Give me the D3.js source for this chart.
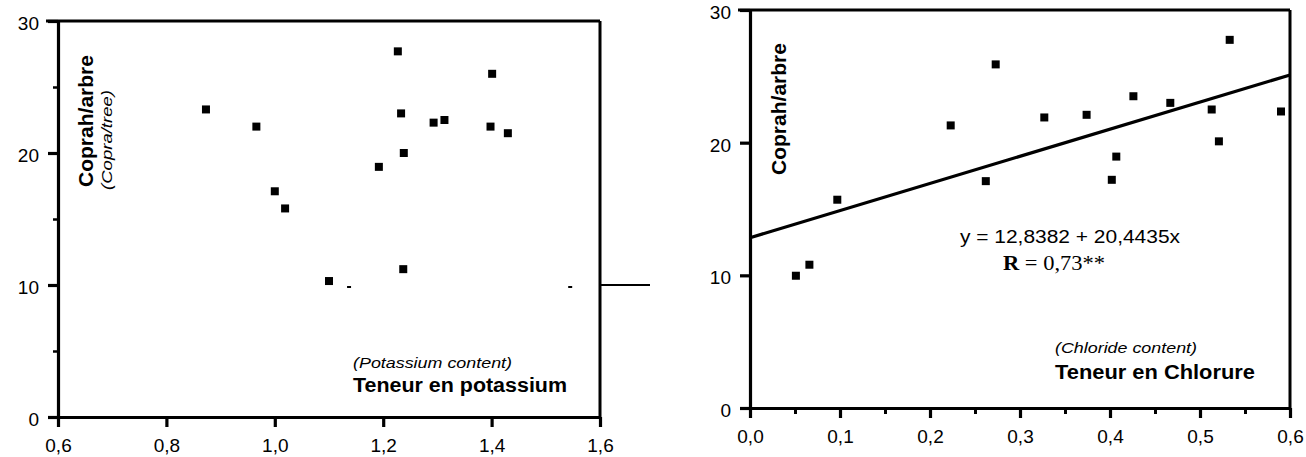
<!DOCTYPE html>
<html>
<head>
<meta charset="utf-8">
<script src="https://cdn.jsdelivr.net/npm/d3@7"></script>
<style>
  body { margin: 0; background: #fff; }
  svg { display: block; }
  text { fill: #000; }
</style>
</head>
<body>
<svg id="canvas" width="1306" height="457"></svg>
<script>
// left panel : potassium vs copra per tree
const potassium = [0.873, 0.966, 1.0, 1.019, 1.10, 1.192, 1.227, 1.233, 1.238, 1.237, 1.293, 1.313, 1.398, 1.401, 1.430];
const coprahK   = [23.3, 22.0, 17.1, 15.8, 10.3, 18.95, 27.7, 23.0, 20.0, 11.2, 22.3, 22.5, 22.0, 26.0, 21.5];

// right panel : chloride vs copra per tree
const chloride = [0.051, 0.066, 0.097, 0.223, 0.262, 0.273, 0.327, 0.374, 0.402, 0.407, 0.426, 0.467, 0.513, 0.521, 0.533, 0.590];
const coprahCl = [9.97, 10.8, 15.7, 21.3, 17.1, 25.9, 21.9, 22.1, 17.2, 18.95, 23.5, 23.0, 22.5, 20.1, 27.75, 22.35];

const regIntercept = 12.8382;
const regSlope = 20.4435;

const kTicks = [0.6, 0.8, 1.0, 1.2, 1.4, 1.6];
const clTicks = [0, 0.1, 0.2, 0.3, 0.4, 0.5, 0.6];
const clMinorTicks = [0.05, 0.15, 0.25, 0.35, 0.45, 0.55];
const yTicks = [0, 10, 20, 30];
const yMinorTicks = [5, 15, 25];

const comma = d3.formatLocale({decimal: ',', thousands: ' ', grouping: [3], currency: ['', '']});
const fmtX = comma.format('.1f');
const fmtY = comma.format('d');

let canvas = d3.select('#canvas');

const styleAxis = (g, w) => {
    g.select('.domain').attr('stroke', '#000').attr('stroke-width', w);
    g.selectAll('.tick line').attr('stroke', '#000').attr('stroke-width', w);
    g.selectAll('.tick text')
        .attr('font-family', 'Liberation Sans, Arial, sans-serif')
        .attr('font-size', 19)
        .attr('fill', '#000');
};

const drawPanel = (p) => {
    let x = d3.scaleLinear().domain(p.xDomain).range(p.xRange);
    let y = d3.scaleLinear().domain([0, 30]).range(p.yRange);
    let g = canvas.append('g');

    // frame : top and right borders
    g.append('line')
        .attr('x1', x(p.xDomain[0]) - 12).attr('x2', x(p.xDomain[1]))
        .attr('y1', y(30)).attr('y2', y(30))
        .attr('stroke', '#000').attr('stroke-width', 2.8);
    g.append('line')
        .attr('x1', x(p.xDomain[1])).attr('x2', x(p.xDomain[1]))
        .attr('y1', y(30)).attr('y2', y(0))
        .attr('stroke', '#000').attr('stroke-width', 3);

    // x axis
    let xAxis = g.append('g')
        .attr('transform', `translate(0,${y(0)})`)
        .call(d3.axisBottom(x).tickValues(p.xTicks).tickSize(10).tickSizeOuter(0).tickPadding(12).tickFormat(fmtX));
    styleAxis(xAxis, 3.2);

    if (p.xMinor) {
        let minor = g.append('g')
            .attr('transform', `translate(0,${y(0)})`)
            .call(d3.axisBottom(x).tickValues(p.xMinor).tickSize(6).tickSizeOuter(0).tickFormat(''));
        minor.select('.domain').remove();
        minor.selectAll('.tick line').attr('stroke', '#000').attr('stroke-width', 3);
    }

    // y axis
    let yAxis = g.append('g')
        .attr('transform', `translate(${x(p.xDomain[0])},0)`)
        .call(d3.axisLeft(y).tickValues(yTicks).tickSize(10).tickSizeOuter(0).tickPadding(9).tickFormat(fmtY));
    styleAxis(yAxis, 3.2);
    yAxis.selectAll('.tick text').attr('dy', '0.45em');

    if (p.yMinor) {
        let minorY = g.append('g')
            .attr('transform', `translate(${x(p.xDomain[0])},0)`)
            .call(d3.axisLeft(y).tickValues(p.yMinor).tickSize(5).tickSizeOuter(0).tickFormat(''));
        minorY.select('.domain').remove();
        minorY.selectAll('.tick line').attr('stroke', '#000').attr('stroke-width', 2.5);
    }

    // regression line
    if (p.reg) {
        let line = d3.line().x(d => x(d)).y(d => y(regIntercept + regSlope * d));
        g.append('path')
            .datum(p.xDomain)
            .attr('d', line)
            .attr('fill', 'none')
            .attr('stroke', '#000')
            .attr('stroke-width', 3.2);
    }

    // points
    g.selectAll('rect.pt')
        .data(p.xs)
        .enter()
        .append('rect')
        .attr('class', 'pt')
        .attr('x', d => x(d) - 4)
        .attr('y', (d, i) => y(p.ys[i]) - 4)
        .attr('width', 8)
        .attr('height', 8)
        .attr('fill', '#000');

    return {x, y, g};
};

const left = drawPanel({
    xDomain: [0.6, 1.6], xRange: [58, 600], yRange: [417, 21],
    xTicks: kTicks, yMinor: yMinorTicks,
    xs: potassium, ys: coprahK
});

const right = drawPanel({
    xDomain: [0, 0.6], xRange: [750, 1290], yRange: [408, 10],
    xTicks: clTicks, xMinor: clMinorTicks,
    xs: chloride, ys: coprahCl, reg: true
});

// stray line at 10 leaving the left frame, and scan specks
left.g.append('line')
    .attr('x1', left.x(1.6)).attr('x2', left.x(1.6) + 50)
    .attr('y1', left.y(10)).attr('y2', left.y(10))
    .attr('stroke', '#000').attr('stroke-width', 1.8);
[1.137, 1.545].forEach(v => {
    left.g.append('line')
        .attr('x1', left.x(v) - 2).attr('x2', left.x(v) + 2)
        .attr('y1', left.y(10) + 2).attr('y2', left.y(10) + 2)
        .attr('stroke', '#000').attr('stroke-width', 2);
});

const sans = 'Liberation Sans, Arial, Helvetica, sans-serif';

const label = (txt, xPos, yPos, opts) => {
    let t = canvas.append('text')
        .attr('font-family', opts.family || sans)
        .attr('font-size', opts.size)
        .attr('font-weight', opts.bold ? 'bold' : 'normal')
        .attr('font-style', opts.italic ? 'italic' : 'normal')
        .attr('textLength', opts.len)
        .attr('lengthAdjust', 'spacingAndGlyphs')
        .text(txt);
    if (opts.rotate) {
        t.attr('transform', `translate(${xPos},${yPos}) rotate(-90)`);
    } else {
        t.attr('x', xPos).attr('y', yPos);
    }
    return t;
};

// left panel labels
label('Coprah/arbre', 93, 187, {size: 20, bold: true, len: 132, rotate: true});
label('(Copra/tree)', 112, 190, {size: 15, italic: true, len: 100, rotate: true});
label('(Potassium content)', 353, 368, {size: 15, italic: true, len: 159});
label('Teneur en potassium', 353, 392, {size: 20, bold: true, len: 214});

// right panel labels
label('Coprah/arbre', 786, 175, {size: 20, bold: true, len: 132, rotate: true});
label('y = 12,8382 + 20,4435x', 960, 243, {size: 18, len: 220});
let r = label('', 1003, 270, {size: 21, family: 'Liberation Serif, Times New Roman, serif', len: 102});
r.append('tspan').attr('font-weight', 'bold').text('R');
r.append('tspan').text(' = 0,73**');
label('(Chloride content)', 1055, 353, {size: 15, italic: true, len: 142});
label('Teneur en Chlorure', 1055, 379, {size: 20, bold: true, len: 200});
</script>
</body>
</html>
